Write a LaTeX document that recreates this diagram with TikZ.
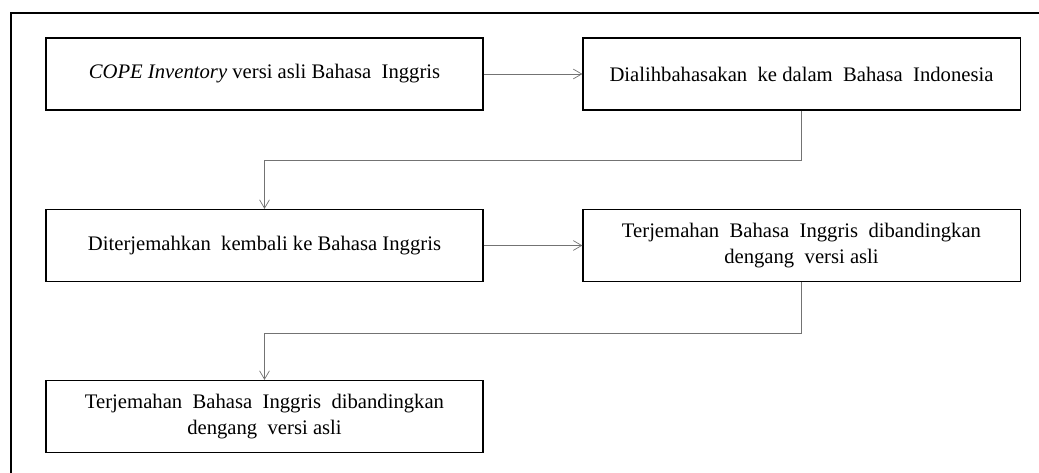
\documentclass[tikz,border=0pt]{standalone}
\usepackage{fontspec}
\setmainfont{Liberation Serif}
\usetikzlibrary{arrows.meta}
\tikzset{box/.style = {draw, line width = 0.8pt, minimum width = 10.925cm, minimum height = 1.8cm,
                       align = center, inner sep = 0, font = \fontsize{14.7}{19}\selectfont}}
\tikzset{link/.style = {draw = black!55, line width = 0.5pt, -{Straight Barb[length = 6pt, width = 7pt]}}}

\begin{document}
\begin{tikzpicture}[x = 0.025cm, y = -0.025cm]
    \useasboundingbox (0,0) rectangle (1039,473);
    \draw [line width = 1.3pt] (11,490) -- (11,13) -- (1060,13);
    \node [box] (asli) at (264.5,74) {\textit{COPE Inventory} versi asli Bahasa\ \ Inggris};
    \node [box] (alih) at (801.5,74) {Dialihbahasakan\ \ ke dalam\ \ Bahasa\ \ Indonesia};
    \node [box] (balik) at (264.5,245.5) {Diterjemahkan\ \ kembali ke Bahasa Inggris};
    \node [box] (banding) at (801.5,245.5) {Terjemahan\ \ Bahasa\ \ Inggris\ \ dibandingkan\\dengang\ \ versi asli};
    \node [box] (hasil) at (264.5,416.5) {Terjemahan\ \ Bahasa\ \ Inggris\ \ dibandingkan\\dengang\ \ versi asli};
    \draw [link] (asli) -- (alih);
    \draw [link] (balik) -- (banding);
    \draw [link] (alih.south) -- ++(0,50) -| (balik.north);
    \draw [link] (banding.south) -- ++(0,51) -| (hasil.north);
  \end{tikzpicture}
\end{document}
